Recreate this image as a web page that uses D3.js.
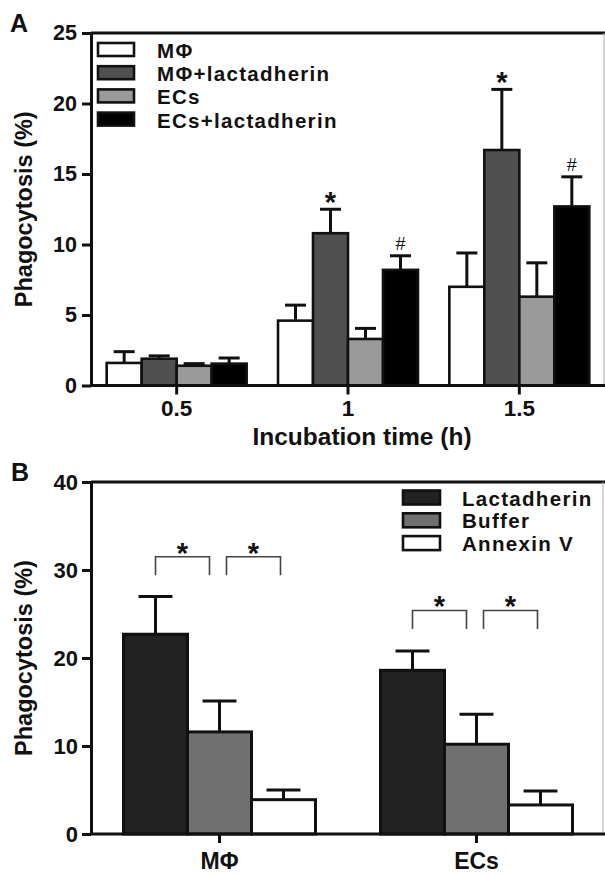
<!DOCTYPE html>
<html><head><meta charset="utf-8">
<script src="https://cdn.jsdelivr.net/npm/d3@7"></script>
<style>
body{margin:0;background:#fff}
svg{display:block}
text{font-family:"Liberation Sans",Arial,Helvetica,sans-serif;font-weight:bold;fill:#111}
</style>
</head><body>
<svg id="c" width="605" height="875"></svg>
<script>
// ---------- Panel A data ----------
const timeLabels = ["0.5", "1", "1.5"];
const seriesA = ["MΦ", "MΦ+lactadherin", "ECs", "ECs+lactadherin"];
const meanMPhi      = [1.6, 4.6, 7.0];
const semMPhi       = [0.8, 1.1, 2.4];
const meanMPhiLact  = [1.9, 10.8, 16.7];
const semMPhiLact   = [0.2, 1.7, 4.3];
const meanECs       = [1.4, 3.3, 6.3];
const semECs        = [0.15, 0.75, 2.4];
const meanECsLact   = [1.55, 8.2, 12.7];
const semECsLact    = [0.4, 1.0, 2.1];
const yTicksA = [0, 5, 10, 15, 20, 25];
const marksA = [
  {series: "MΦ+lactadherin", time: "1", sym: "*"},
  {series: "MΦ+lactadherin", time: "1.5", sym: "*"},
  {series: "ECs+lactadherin", time: "1", sym: "#"},
  {series: "ECs+lactadherin", time: "1.5", sym: "#"}
];

// ---------- Panel B data ----------
const cellsB = ["MΦ", "ECs"];
const treatB = ["Lactadherin", "Buffer", "Annexin V"];
const meanLact    = [22.7, 18.6];
const semLact     = [4.3, 2.2];
const meanBuffer  = [11.6, 10.2];
const semBuffer   = [3.5, 3.4];
const meanAnnexin = [3.9, 3.3];
const semAnnexin  = [1.1, 1.6];
const yTicksB = [0, 10, 20, 30, 40];
// significance brackets: cell, from treatment, to treatment, bracket height (%)
const bracketsB = [
  {cell: "MΦ",  from: "Lactadherin", to: "Buffer",    level: 31.5},
  {cell: "MΦ",  from: "Buffer",      to: "Annexin V", level: 31.5},
  {cell: "ECs", from: "Lactadherin", to: "Buffer",    level: 25.4},
  {cell: "ECs", from: "Buffer",      to: "Annexin V", level: 25.4}
];

const svg = d3.select("#c");
const FONT = '"Liberation Sans",Arial,Helvetica,sans-serif';

function styleAxis(g, fs) {
  g.select(".domain").attr("stroke", "#111").attr("stroke-width", 3);
  g.selectAll(".tick line").attr("stroke", "#111").attr("stroke-width", 3);
  g.selectAll(".tick text").attr("fill", "#111").style("font-family", FONT)
    .style("font-weight", "bold").style("font-size", fs + "px");
}

// =============== PANEL A ===============
(function () {
  const L = 91, R = 605, T = 33, B = 385.5;
  const x0 = d3.scaleBand().domain(timeLabels).range([L, R]).paddingInner(0.183).paddingOuter(0.0915);
  const x1 = d3.scaleBand().domain(seriesA).range([0, x0.bandwidth()]);
  const y = d3.scaleLinear().domain([0, 25]).range([B, T]);
  const fills = {"MΦ": "#ffffff", "MΦ+lactadherin": "#505050", "ECs": "#9a9a9a", "ECs+lactadherin": "#000000"};
  const means = {"MΦ": meanMPhi, "MΦ+lactadherin": meanMPhiLact, "ECs": meanECs, "ECs+lactadherin": meanECsLact};
  const sems = {"MΦ": semMPhi, "MΦ+lactadherin": semMPhiLact, "ECs": semECs, "ECs+lactadherin": semECsLact};

  const rows = [];
  seriesA.forEach(s => timeLabels.forEach((t, i) => rows.push({s, t, m: means[s][i], e: sems[s][i]})));

  const g = svg.append("g");
  g.append("line").attr("x1", L).attr("x2", R).attr("y1", T).attr("y2", T).attr("stroke", "#111").attr("stroke-width", 3);
  g.append("line").attr("x1", 604).attr("x2", 604).attr("y1", T).attr("y2", B).attr("stroke", "#aaa").attr("stroke-width", 1);

  const cw = x1.bandwidth() * 0.6;
  rows.forEach(d => {
    const cx = x0(d.t) + x1(d.s) + x1.bandwidth() / 2;
    g.append("line").attr("x1", cx).attr("x2", cx).attr("y1", y(d.m)).attr("y2", y(d.m + d.e))
      .attr("stroke", "#111").attr("stroke-width", 3);
    g.append("line").attr("x1", cx - cw / 2).attr("x2", cx + cw / 2).attr("y1", y(d.m + d.e)).attr("y2", y(d.m + d.e))
      .attr("stroke", "#111").attr("stroke-width", 3);
  });
  g.selectAll("rect.bar").data(rows).join("rect")
    .attr("x", d => x0(d.t) + x1(d.s)).attr("width", x1.bandwidth())
    .attr("y", d => y(d.m)).attr("height", d => y(0) - y(d.m))
    .attr("fill", d => fills[d.s]).attr("stroke", "#111").attr("stroke-width", 2.6);

  marksA.forEach(mk => {
    const i = timeLabels.indexOf(mk.time);
    const top = y(means[mk.series][i] + sems[mk.series][i]);
    const cx = x0(mk.time) + x1(mk.series) + x1.bandwidth() / 2;
    if (mk.sym === "*") {
      g.append("text").attr("x", cx).attr("y", top - 13 + 16).attr("text-anchor", "middle")
        .style("font-size", "29px").text("*");
    } else {
      g.append("text").attr("x", cx).attr("y", top - 12 + 6.5).attr("text-anchor", "middle")
        .style("font-size", "18px").style("font-weight", "normal").text("#");
    }
  });

  const ay = g.append("g").attr("transform", `translate(${L},0)`)
    .call(d3.axisLeft(y).tickValues(yTicksA).tickSize(9).tickSizeOuter(0).tickPadding(5));
  styleAxis(ay, 21.5);
  const ax = g.append("g").attr("transform", `translate(0,${B})`)
    .call(d3.axisBottom(x0).tickSize(9).tickSizeOuter(0).tickPadding(6));
  styleAxis(ax, 22.5);
  ax.select(".domain").attr("d", `M${L},0H${R}`);

  const lg = g.append("g");
  seriesA.forEach((s, i) => {
    const cy = 49.5 + i * 23.2;
    lg.append("rect").attr("x", 98).attr("y", cy - 6.5).attr("width", 36).attr("height", 13)
      .attr("fill", fills[s]).attr("stroke", "#111").attr("stroke-width", 2.6);
    lg.append("text").attr("x", 157).attr("y", cy + 8.5).style("font-size", "20.5px")
      .style("letter-spacing", "1.3px").text(s);
  });

  g.append("text").attr("transform", `translate(32,${(T + B) / 2}) rotate(-90)`)
    .attr("text-anchor", "middle").style("font-size", "23.5px").text("Phagocytosis (%)");
  g.append("text").attr("x", 362).attr("y", 445).attr("text-anchor", "middle")
    .style("font-size", "24.5px").text("Incubation time (h)");
  g.append("text").attr("x", 10).attr("y", 32).style("font-size", "25px").text("A");
})();

// =============== PANEL B ===============
(function () {
  const L = 91, R = 605, T = 482, B = 834;
  const x0 = d3.scaleBand().domain(cellsB).range([L, R]).paddingInner(0.253).paddingOuter(0.1265);
  const x1 = d3.scaleBand().domain(treatB).range([0, x0.bandwidth()]);
  const y = d3.scaleLinear().domain([0, 40]).range([B, T]);
  const fills = {"Lactadherin": "#222222", "Buffer": "#707070", "Annexin V": "#ffffff"};
  const means = {"Lactadherin": meanLact, "Buffer": meanBuffer, "Annexin V": meanAnnexin};
  const sems = {"Lactadherin": semLact, "Buffer": semBuffer, "Annexin V": semAnnexin};

  const rows = [];
  treatB.forEach(s => cellsB.forEach((c, i) => rows.push({s, c, m: means[s][i], e: sems[s][i]})));

  const g = svg.append("g");
  g.append("line").attr("x1", L).attr("x2", R).attr("y1", T).attr("y2", T).attr("stroke", "#111").attr("stroke-width", 3);
  g.append("line").attr("x1", 603).attr("x2", 603).attr("y1", T).attr("y2", B).attr("stroke", "#aaa").attr("stroke-width", 1);

  const cw = x1.bandwidth() * 0.53;
  rows.forEach(d => {
    const cx = x0(d.c) + x1(d.s) + x1.bandwidth() / 2;
    g.append("line").attr("x1", cx).attr("x2", cx).attr("y1", y(d.m)).attr("y2", y(d.m + d.e))
      .attr("stroke", "#111").attr("stroke-width", 3);
    g.append("line").attr("x1", cx - cw / 2).attr("x2", cx + cw / 2).attr("y1", y(d.m + d.e)).attr("y2", y(d.m + d.e))
      .attr("stroke", "#111").attr("stroke-width", 3);
  });
  g.selectAll("rect.bar").data(rows).join("rect")
    .attr("x", d => x0(d.c) + x1(d.s)).attr("width", x1.bandwidth())
    .attr("y", d => y(d.m)).attr("height", d => y(0) - y(d.m))
    .attr("fill", d => fills[d.s]).attr("stroke", "#111").attr("stroke-width", 3);

  bracketsB.forEach(b => {
    const cxF = x0(b.cell) + x1(b.from) + x1.bandwidth() / 2;
    const cxT = x0(b.cell) + x1(b.to) + x1.bandwidth() / 2;
    const first = b.from === "Lactadherin";
    const xa = first ? cxF : cxF + 7;
    const xb = first ? cxT - 10 : cxT - 3;
    const yt = y(b.level), yb = y(b.level - 2.1);
    g.append("path").attr("d", `M${xa},${yb}V${yt}H${xb}V${yb}`)
      .attr("fill", "none").attr("stroke", "#444").attr("stroke-width", 1.6);
    g.append("text").attr("x", (xa + xb) / 2).attr("y", yt - 10 + 16).attr("text-anchor", "middle")
      .style("font-size", "29px").text("*");
  });

  const ay = g.append("g").attr("transform", `translate(${L},0)`)
    .call(d3.axisLeft(y).tickValues(yTicksB).tickSize(9).tickSizeOuter(0).tickPadding(4));
  styleAxis(ay, 22);
  const ax = g.append("g").attr("transform", `translate(0,${B})`)
    .call(d3.axisBottom(x0).tickSize(9).tickSizeOuter(0).tickPadding(10));
  styleAxis(ax, 23);
  ax.select(".domain").attr("d", `M${L},0H${R}`);

  const lg = g.append("g");
  treatB.forEach((s, i) => {
    const cy = 497.5 + i * 22.8;
    lg.append("rect").attr("x", 403).attr("y", cy - 7).attr("width", 37).attr("height", 14)
      .attr("fill", fills[s]).attr("stroke", "#111").attr("stroke-width", 2.6);
    lg.append("text").attr("x", 462).attr("y", cy + 8).style("font-size", "20.5px")
      .style("letter-spacing", "1.3px").text(s);
  });

  g.append("text").attr("transform", `translate(32,${(T + B) / 2}) rotate(-90)`)
    .attr("text-anchor", "middle").style("font-size", "23.5px").text("Phagocytosis (%)");
  g.append("text").attr("x", 11).attr("y", 481).style("font-size", "25px").text("B");
})();
</script>
</body></html>
